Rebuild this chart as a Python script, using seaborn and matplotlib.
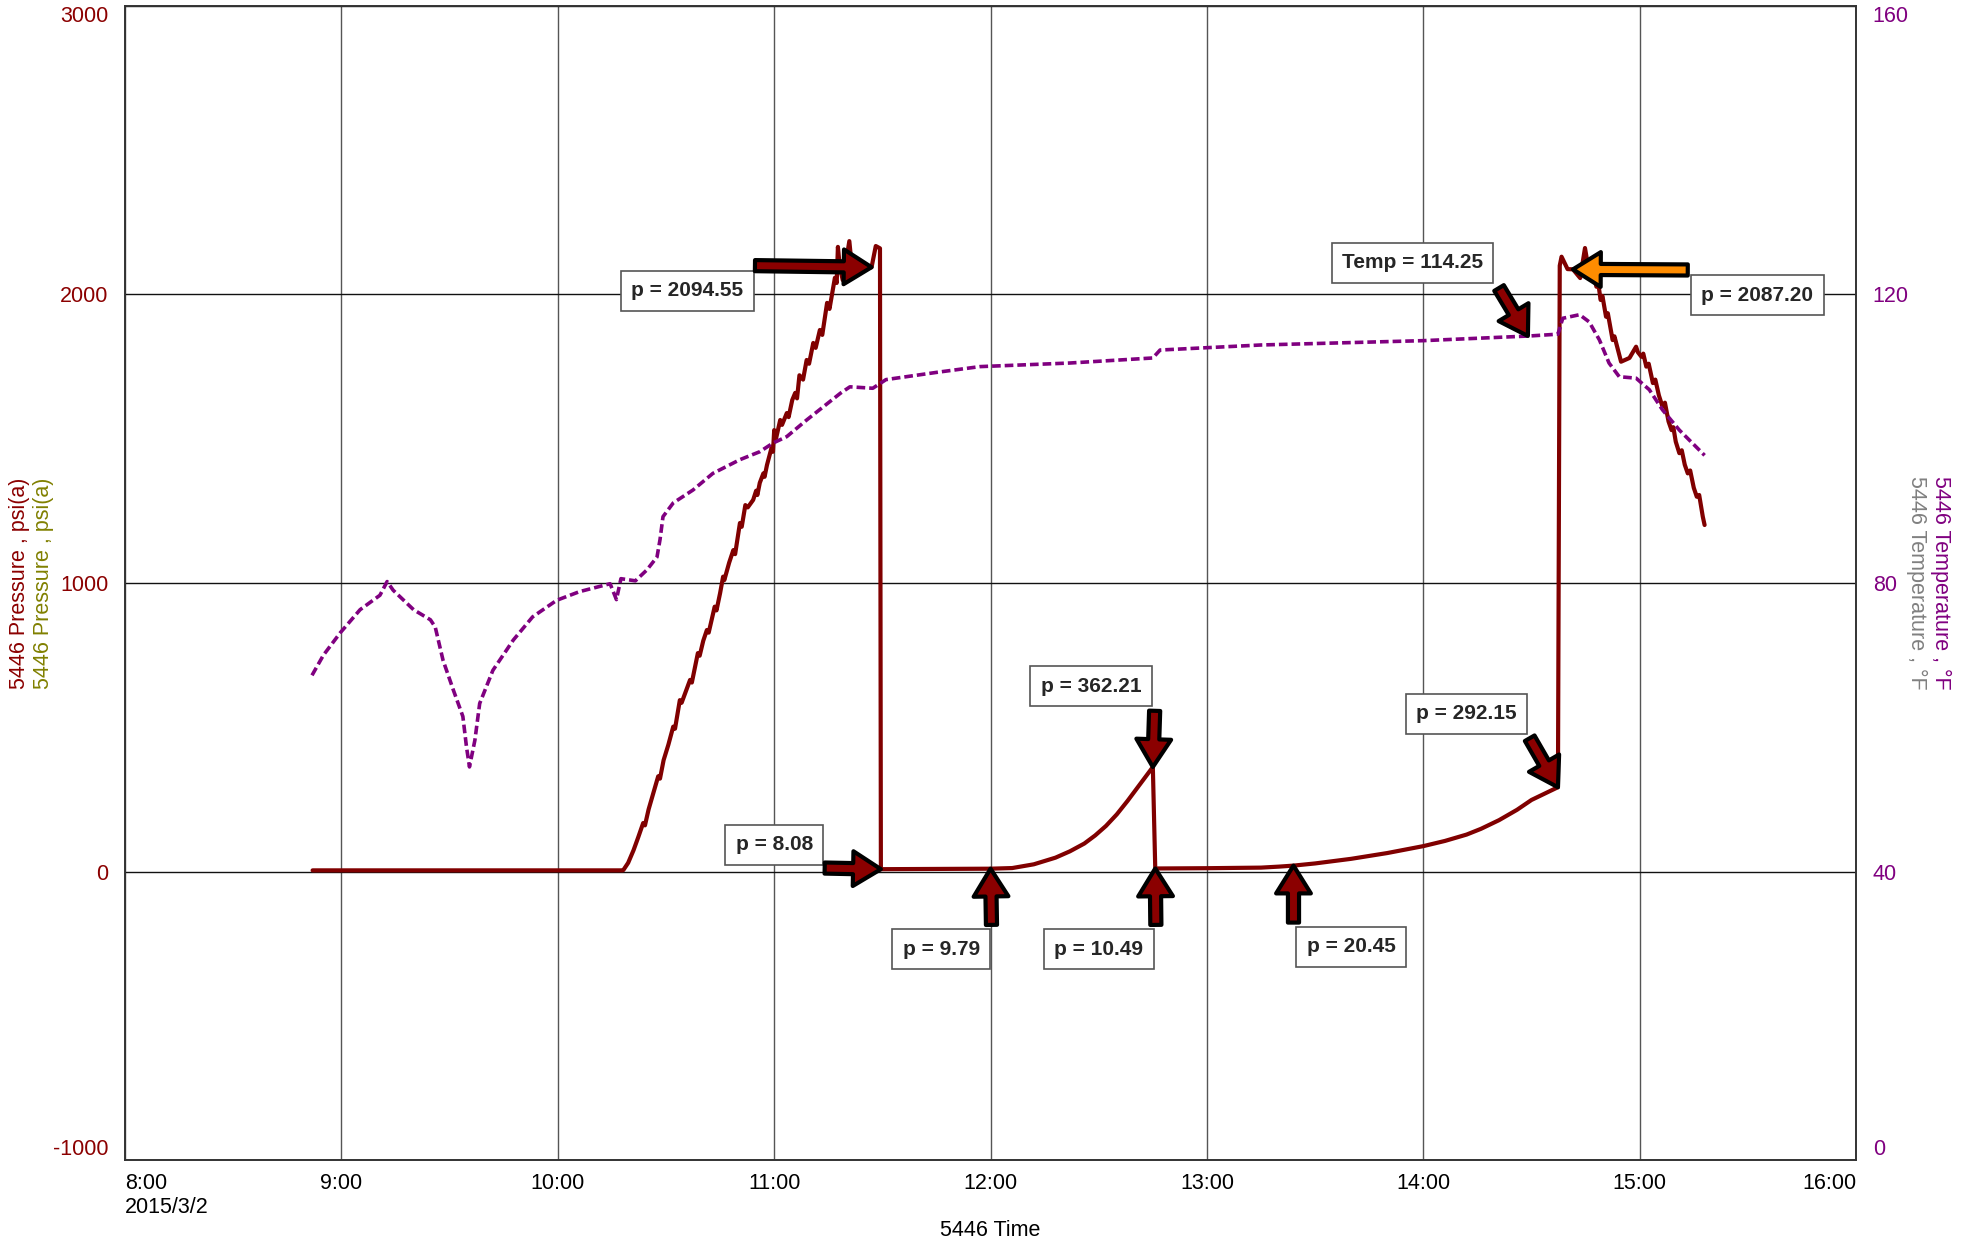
import pandas as pd
import matplotlib
matplotlib.use("Agg")
import matplotlib.pyplot as plt
import matplotlib.dates as mdates
import seaborn as sns

day = "2015-03-02 "

# 5446 pressure, psi(a)
pressure_times = [
    "08:52:00", "10:18:00", "10:18:10", "10:19:30", "10:21:00", "10:22:20", "10:23:40", "10:24:10",
    "10:25:10", "10:26:30", "10:27:50", "10:28:20", "10:29:20", "10:30:40", "10:32:00", "10:32:30",
    "10:33:50", "10:34:20", "10:35:30", "10:36:40", "10:37:10", "10:38:50", "10:39:20", "10:40:20",
    "10:41:20", "10:41:50", "10:43:30", "10:44:00", "10:45:00", "10:45:50", "10:46:10", "10:47:30",
    "10:48:40", "10:49:10", "10:50:30", "10:51:00", "10:52:00", "10:52:40", "10:54:10", "10:55:00",
    "10:55:20", "10:56:00", "10:57:00", "10:57:20", "10:58:00", "10:59:20", "10:59:40", "11:00:00",
    "11:00:30", "11:01:40", "11:02:10", "11:03:30", "11:04:00", "11:05:00", "11:05:50", "11:06:20",
    "11:07:00", "11:08:00", "11:09:00", "11:09:40", "11:10:50", "11:11:30", "11:12:40", "11:13:20",
    "11:14:40", "11:15:20", "11:16:50", "11:17:20", "11:17:40", "11:18:10", "11:19:00", "11:20:00",
    "11:20:50", "11:21:30", "11:22:30", "11:24:00", "11:25:30", "11:27:00", "11:28:10", "11:29:20",
    "11:29:35", "11:45:00", "12:00:00", "12:06:00", "12:12:00", "12:18:00", "12:22:00", "12:26:00",
    "12:29:00", "12:32:00", "12:35:00", "12:38:00", "12:41:00", "12:45:00", "12:45:40", "13:00:00",
    "13:15:00", "13:20:00", "13:24:00", "13:30:00", "13:40:00", "13:50:00", "14:00:00", "14:06:00",
    "14:12:00", "14:16:00", "14:21:00", "14:26:00", "14:30:00", "14:34:00", "14:37:20", "14:37:50",
    "14:38:20", "14:40:00", "14:41:30", "14:43:30", "14:44:50", "14:46:00", "14:46:40", "14:48:00",
    "14:48:30", "14:49:10", "14:49:40", "14:50:40", "14:51:10", "14:52:30", "14:53:00", "14:54:50",
    "14:57:10", "14:59:00", "14:59:30", "15:00:30", "15:01:00", "15:01:50", "15:02:30", "15:03:40",
    "15:04:20", "15:05:20", "15:06:20", "15:07:00", "15:08:00", "15:08:50", "15:09:20", "15:10:00",
    "15:11:00", "15:11:40", "15:12:30", "15:13:20", "15:14:00", "15:15:00", "15:15:50", "15:16:30",
    "15:17:30", "15:18:00",
]
pressure_values = [
    4, 4, 5, 30, 74, 120, 168, 160,
    215, 272, 330, 322, 386, 440, 502, 495,
    594, 585, 625, 664, 655, 757, 748, 800,
    837, 828, 918, 905, 965, 1022, 1010, 1070,
    1114, 1100, 1208, 1195, 1270, 1262, 1288, 1320,
    1305, 1347, 1380, 1368, 1409, 1472, 1455, 1530,
    1500, 1565, 1548, 1589, 1575, 1634, 1659, 1640,
    1720, 1705, 1773, 1760, 1832, 1815, 1877, 1860,
    1971, 1950, 2058, 2040, 2165, 2100, 2050, 2120,
    2185, 2100, 2075, 2085, 2090, 2094.55, 2168, 2160,
    8.08, 9.0, 9.79, 12, 25, 48, 70, 97,
    125, 158, 198, 245, 295, 362.21, 10.49, 11.5,
    13.5, 17, 20.45, 28, 44, 64, 88, 106,
    128, 148, 178, 214, 248, 272, 292.15, 2100,
    2131, 2088, 2087.20, 2057, 2161, 2075, 2095, 2027,
    2040, 1981, 1995, 1923, 1935, 1842, 1855, 1767,
    1780, 1819, 1800, 1784, 1795, 1750, 1760, 1693,
    1705, 1650, 1611, 1625, 1560, 1530, 1540, 1490,
    1450, 1460, 1410, 1380, 1390, 1330, 1299, 1305,
    1230, 1201,
]

# 5446 temperature, degF
temp_times = [
    "08:51:50", "08:55:00", "08:59:40", "09:05:10", "09:10:40", "09:12:40", "09:14:20", "09:20:00",
    "09:24:40", "09:26:00", "09:28:10", "09:31:00", "09:33:40", "09:34:40", "09:35:30", "09:37:00",
    "09:38:20", "09:42:00", "09:47:40", "09:53:00", "09:59:40", "10:06:00", "10:14:30", "10:16:15",
    "10:17:30", "10:21:30", "10:24:40", "10:27:30", "10:28:20", "10:29:10", "10:32:00", "10:37:30",
    "10:43:00", "10:50:30", "10:56:00", "10:59:40", "11:03:30", "11:09:00", "11:18:20", "11:21:00",
    "11:27:20", "11:31:00", "11:45:00", "11:57:00", "12:22:00", "12:45:00", "12:47:00", "13:15:00",
    "14:00:00", "14:29:30", "14:37:20", "14:38:40", "14:43:20", "14:46:00", "14:48:50", "14:51:30",
    "14:54:20", "14:59:00", "15:02:40", "15:06:20", "15:11:00", "15:18:00",
]
temp_values = [
    67.2, 70.0, 73.1, 76.3, 78.3, 80.2, 79.0, 76.3,
    74.9, 73.9, 69.3, 65.2, 61.5, 57.3, 54.5, 58.2,
    63.3, 67.9, 72.1, 75.3, 77.6, 78.8, 79.9, 77.7,
    80.6, 80.3, 81.8, 83.6, 86.0, 89.2, 91.1, 92.9,
    95.2, 97.1, 98.2, 99.4, 100.3, 102.6, 106.3, 107.2,
    107.0, 108.2, 109.2, 110.0, 110.5, 111.2, 112.3, 113.0,
    113.6, 114.25, 114.5, 116.7, 117.2, 116.2, 113.7, 110.5,
    108.6, 108.4, 106.8, 104.0, 101.2, 97.7,
]

hour_ticks = ["08:00", "09:00", "10:00", "11:00", "12:00", "13:00", "14:00", "15:00", "16:00"]
hour_labels = ["8:00\n2015/3/2", "9:00", "10:00", "11:00", "12:00", "13:00", "14:00", "15:00", "16:00"]
p_ticks = [-1000, 0, 1000, 2000, 3000]
t_ticks = [0, 40, 80, 120, 160]

# pressure callouts: label, point marked, box centre, arrow tail
p_labels = ["p = 2094.55", "p = 8.08", "p = 9.79", "p = 362.21", "p = 10.49", "p = 20.45", "p = 292.15", "p = 2087.20"]
p_marks = [("11:27:00", 2094.55), ("11:29:35", 8.08), ("12:00:00", 9.79), ("12:45:00", 362.21),
           ("12:45:40", 10.49), ("13:24:00", 20.45), ("14:37:20", 292.15), ("14:41:30", 2087.20)]
p_boxes = [("10:35:50", 2013), ("11:00:00", 92), ("11:46:20", -270), ("12:27:50", 643),
           ("12:30:00", -270), ("13:40:00", -261), ("14:12:00", 546), ("15:32:40", 1997)]
p_tails = [("10:54:40", 2100), ("11:14:00", 12), ("12:00:15", -185), ("12:45:30", 557),
           ("12:45:50", -185), ("13:24:00", -177), ("14:29:30", 462), ("15:13:20", 2085)]
p_fill = ["#8B0000"] * 7 + ["#FF8C00"]

t_label = "Temp = 114.25"
t_mark = ("14:29:00", 114.25)
t_box = ("13:57:00", 124.4)
t_tail = ("14:21:00", 120.9)

red = "#8B0000"
purple = "#800080"

sns.set_style("white")
plt.rcParams['font.family'] = ['Liberation Sans', 'DejaVu Sans']
plt.rcParams['axes.unicode_minus'] = False


def ts(t):
    return pd.Timestamp(day + t)


def tnum(t):
    return mdates.date2num(ts(t))


df_p = pd.DataFrame({"time": [ts(t) for t in pressure_times], "pressure": pressure_values})
df_t = pd.DataFrame({"time": [ts(t) for t in temp_times], "temperature": temp_values})

fig = plt.figure(figsize=(19.76, 12.46), dpi=100)
ax = fig.add_axes([0.0633, 0.069, 0.876, 0.9262])
ax2 = ax.twinx()

sns.lineplot(data=df_p, x="time", y="pressure", ax=ax, color="#800000", lw=3,
             estimator=None, sort=False)
sns.lineplot(data=df_t, x="time", y="temperature", ax=ax2, color=purple, lw=2.6,
             linestyle=(0, (2.4, 1.1)), estimator=None, sort=False)

ax.set_xlim(ts("08:00"), ts("16:00"))
ax.set_ylim(-1000, 3000)
ax2.set_ylim(0, 160)
ax.set_xticks([ts(t) for t in hour_ticks])
ax.set_xticklabels(hour_labels)
ax.set_yticks(p_ticks)
ax2.set_yticks(t_ticks)
xl = ax.get_xticklabels()
xl[0].set_ha("left")
xl[-1].set_ha("right")
for a in (ax, ax2):
    yl = a.get_yticklabels()
    yl[0].set_va("bottom")
    yl[-1].set_va("top")

ax.set_xlabel("")
ax.set_ylabel("")
ax2.set_ylabel("")

ax.tick_params(axis="x", length=0, pad=9, labelsize=15.5, colors="black")
ax.tick_params(axis="y", length=0, pad=12, labelsize=15.5, colors=red)
ax2.tick_params(axis="y", length=0, pad=12, labelsize=15.5, colors=purple)

ax.grid(True, axis="x", color="#555555", lw=1)
ax.grid(True, axis="y", color="#111111", lw=1)
ax2.grid(False)
for a in (ax, ax2):
    for s in a.spines.values():
        s.set_color("#333333")
        s.set_linewidth(1.2)

box_style = dict(boxstyle="square,pad=0.5", fc="white", ec="#555555", lw=1.2)
arrow_style = "simple,head_length=1.0,head_width=1.25,tail_width=0.4"

for lab, mk, bx, tl, fc in zip(p_labels, p_marks, p_boxes, p_tails, p_fill):
    ax2.text(tnum(bx[0]), bx[1], lab, transform=ax.transData, ha="center", va="center",
             fontsize=15, fontweight="bold", bbox=box_style, zorder=4)
    ax2.annotate("", xy=(tnum(mk[0]), mk[1]), xycoords=ax.transData,
                 xytext=(tnum(tl[0]), tl[1]), textcoords=ax.transData,
                 arrowprops=dict(arrowstyle=arrow_style, fc=fc, ec="black", lw=3,
                                 shrinkA=0, shrinkB=0, mutation_scale=20),
                 zorder=5)

ax2.text(tnum(t_box[0]), t_box[1], t_label, transform=ax2.transData, ha="center", va="center",
         fontsize=15, fontweight="bold", bbox=box_style, zorder=4)
ax2.annotate("", xy=(tnum(t_mark[0]), t_mark[1]), xycoords=ax2.transData,
             xytext=(tnum(t_tail[0]), t_tail[1]), textcoords=ax2.transData,
             arrowprops=dict(arrowstyle=arrow_style, fc=red, ec="black", lw=3,
                             shrinkA=0, shrinkB=0, mutation_scale=20),
             zorder=5)

# axis titles, two lines each in different colours
fig.text(0.010, 0.532, "5446 Pressure , psi(a)", rotation=90, ha="center", va="center",
         fontsize=15.5, color=red)
fig.text(0.022, 0.532, "5446 Pressure , psi(a)", rotation=90, ha="center", va="center",
         fontsize=15.5, color="#808000")
fig.text(0.970, 0.532, "5446 Temperature , \u00b0F", rotation=270, ha="center", va="center",
         fontsize=15.5, color="#808080")
fig.text(0.982, 0.532, "5446 Temperature , \u00b0F", rotation=270, ha="center", va="center",
         fontsize=15.5, color=purple)
fig.text(0.0633 + 0.876 / 2, 1 - 1230 / 1246, "5446 Time", ha="center", va="center",
         fontsize=15.5, color="black")

fig.savefig("out.png", dpi=100)
